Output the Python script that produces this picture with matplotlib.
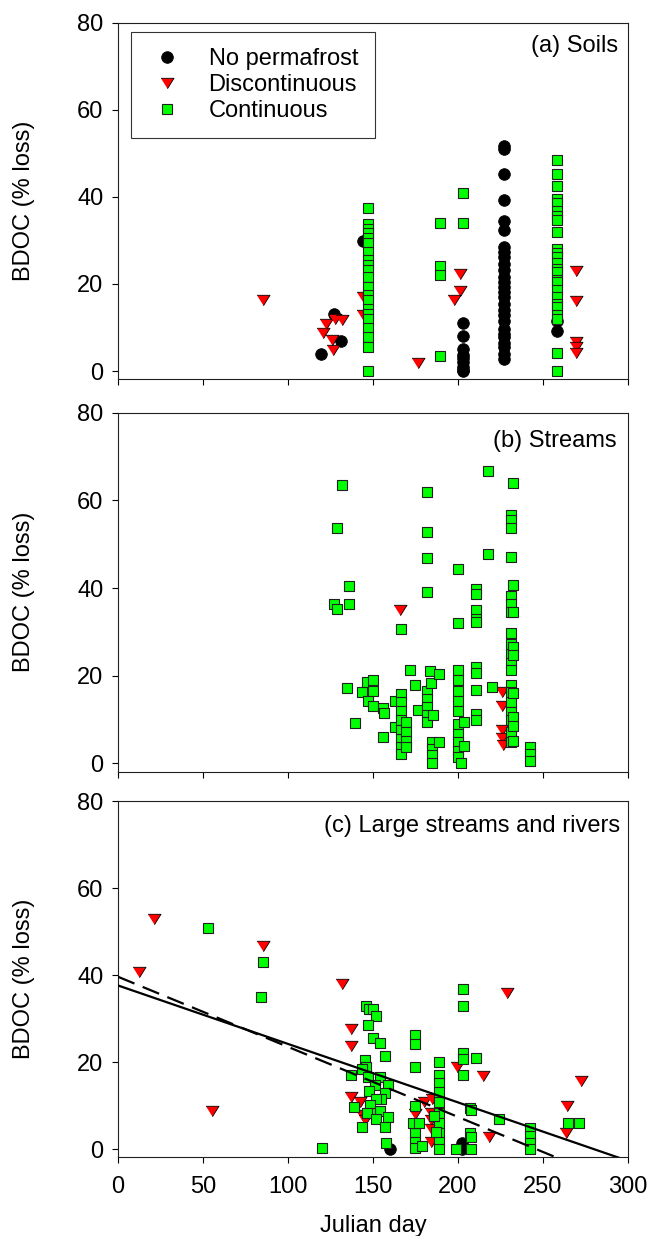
import numpy as np
import matplotlib.pyplot as plt
from matplotlib.lines import Line2D

plt.rcParams['font.family'] = ['Liberation Sans', 'DejaVu Sans']

# (a) soils
soil_none_day = [119.4, 127.3, 131.2, 144.3] + [203.1] * 9 + [227.2] * 27 + [258.0] * 2
soil_none_val = [4.0, 13.0, 6.9, 29.9,
                 11.0, 8.0, 5.1, 3.6, 3.0, 2.1, 1.0, 0.2, 0.0,
                 51.7, 51.0, 45.2, 39.2, 34.5, 32.3, 28.5, 27.4, 26.2, 24.5, 23.3, 21.5, 20.5, 19.2,
                 18.2, 17.0, 15.3, 14.0, 12.8, 11.5, 9.7, 8.5, 7.8, 6.5, 5.5, 4.0, 2.8,
                 11.6, 9.3]
soil_disc_day = [85.1, 120.4, 122.4, 125.7, 126.3, 127.6, 131.6, 144.3, 144.3, 176.3,
                 201.2, 201.2, 197.8, 269.3, 269.3, 269.3, 269.3, 269.3]
soil_disc_val = [16.2, 8.7, 10.7, 7.2, 4.9, 12.0, 11.7, 16.9, 12.8, 1.8,
                 22.2, 18.3, 16.3, 22.9, 16.0, 6.7, 5.5, 4.1]
soil_cont_day = [147.3] * 21 + [189.4] * 4 + [203.1] * 2 + [258.0] * 25
soil_cont_val = [37.5, 33.7, 32.6, 31.6, 30.5, 29.3, 27.4, 25.4, 24.4, 23.3, 21.5, 19.2, 17.5,
                 16.4, 14.3, 13.2, 12.0, 9.9, 7.8, 5.5, 0.0,
                 34.1, 24.1, 22.0, 3.4,
                 40.9, 34.1,
                 48.4, 45.2, 42.5, 39.5, 38.5, 36.8, 35.5, 34.6, 32.0, 28.1, 27.0, 26.2, 24.7,
                 23.5, 22.8, 21.0, 20.5, 18.5, 17.0, 15.5, 14.7, 12.8, 12.0, 4.1, 0.0]

# (b) streams
stream_none_day = []
stream_none_val = []
stream_disc_day = [166.0, 225.7, 225.7, 225.7, 225.7, 226.3]
stream_disc_val = [34.9, 16.2, 13.2, 7.5, 5.9, 4.3]
stream_cont_day = ([131.9, 128.9, 136.0, 126.8, 128.9, 136.0,
                    134.5, 139.4, 143.7, 146.3, 149.8, 149.8, 147.0, 149.8, 155.7, 156.7, 155.7,
                    162.9, 162.9]
                   + [166.3] * 9 + [169.3] * 4
                   + [171.8, 174.7, 176.7]
                   + [181.8] * 9
                   + [183.5, 183.9, 189.0, 185.5]
                   + [184.7] * 4 + [189.0]
                   + [199.8] * 12
                   + [203.7, 203.7, 201.8]
                   + [210.3] * 10
                   + [217.8, 217.8, 219.8]
                   + [231.2] * 19 + [232.5] * 9 + [242.5] * 3)
stream_cont_val = ([63.5, 53.7, 40.5, 36.4, 35.3, 36.4,
                    17.1, 9.1, 16.2, 18.5, 19.1, 16.6, 14.3, 13.2, 12.6, 11.4, 6.1,
                    14.3, 8.2]
                   + [30.6, 15.9, 13.9, 12.0, 9.8, 7.5, 5.6, 3.7, 2.1]
                   + [9.4, 7.1, 5.2, 3.7]
                   + [21.3, 17.8, 12.2]
                   + [61.9, 52.7, 46.9, 39.2, 16.6, 14.7, 12.8, 11.1, 9.4]
                   + [21.0, 18.4, 20.4, 11.1]
                   + [4.8, 3.3, 1.8, 0.0, 4.8]
                   + [44.3, 32.1, 21.3, 19.1, 16.6, 14.3, 12.0, 9.0, 6.7, 4.8, 2.9, 1.4]
                   + [9.4, 4.0, 0.0]
                   + [39.8, 38.7, 34.9, 33.0, 32.2, 21.9, 20.6, 16.8, 11.3, 9.8]
                   + [66.7, 47.8, 17.5]
                   + [56.6, 55.6, 53.7, 47.1, 38.2, 36.3, 34.5, 29.7, 27.3, 25.0, 22.9, 21.2,
                      17.8, 16.2, 13.9, 11.7, 9.8, 7.1, 4.8]
                   + [64.0, 40.8, 34.5, 26.5, 24.8, 16.0, 10.5, 8.6, 5.2]
                   + [3.7, 2.1, 0.6])

# (c) large streams and rivers
river_none_day = [160.0, 202.5, 202.5]
river_none_val = [0.0, 1.3, 0.0]
river_disc_day = [12.2, 21.0, 55.0, 85.0, 132.0, 136.9, 136.9, 136.9, 142.2, 143.5, 145.0,
                  175.0, 180.0, 184.7, 184.3, 184.0, 184.0, 184.0, 199.6, 214.7, 218.0, 229.0,
                  263.4, 264.0, 272.4]
river_disc_val = [40.7, 52.8, 8.7, 46.7, 37.9, 27.7, 23.7, 11.9, 10.7, 7.8, 6.7,
                  8.0, 10.7, 11.6, 6.7, 8.2, 4.5, 1.7, 18.8, 16.8, 2.8, 35.8,
                  3.8, 9.9, 15.7]
river_cont_day = ([53.0, 85.0, 84.3, 120.0,
                   146.1, 147.6, 150.0, 152.0, 147.0, 150.0, 153.9, 156.9, 145.1, 146.0, 136.9,
                   143.7, 147.0, 153.9, 151.0, 158.8, 156.9, 147.6, 154.9, 152.0, 138.8, 148.4,
                   154.0, 148.4, 146.5, 158.8, 152.0, 143.7, 156.9, 157.8]
                  + [175.0] * 7 + [173.5, 177.0, 179.0]
                  + [188.8] * 10 + [186.0, 186.9, 198.6]
                  + [203.0] * 5
                  + [210.8, 207.3, 207.8, 206.9, 207.8, 207.8, 223.9]
                  + [242.2] * 4 + [264.6, 271.4])
river_cont_val = ([50.9, 42.9, 35.0, 0.2,
                   32.9, 32.1, 32.3, 30.6, 28.5, 25.6, 24.3, 21.4, 20.5, 18.9, 17.0,
                   18.3, 16.6, 16.5, 14.7, 14.7, 12.9, 13.4, 11.4, 11.4, 9.6, 10.1,
                   8.7, 8.2, 8.2, 7.3, 6.8, 5.0, 5.0, 1.3]
                  + [26.2, 24.1, 18.9, 10.0, 3.8, 1.7, 0.2, 6.0, 6.0, 0.6]
                  + [20.0, 17.0, 15.1, 13.2, 10.9, 8.2, 6.0, 3.8, 1.7, 0.0, 7.5, 4.0, 0.0]
                  + [36.9, 32.9, 22.0, 20.6, 17.0]
                  + [21.0, 9.4, 8.9, 3.8, 2.8, 0.0, 6.9]
                  + [4.8, 3.0, 1.5, 0.0, 6.0, 6.0])

# regression lines (intercept, slope)
fit_solid = (37.6, -0.1344)
fit_dashed = (39.6, -0.1611)

panel_titles = ['(a) Soils', '(b) Streams', '(c) Large streams and rivers']
series_labels = ['No permafrost', 'Discontinuous', 'Continuous']

tri = [(-1.0, 0.8), (1.0, 0.8), (0.0, -0.8)]
styles = [dict(marker='o', s=70, c='black', edgecolors='black', linewidths=0.6),
          dict(marker=tri, s=88, c='#ff0000', edgecolors='black', linewidths=0.6),
          dict(marker='s', s=54, c='#00ff00', edgecolors='#202020', linewidths=0.8)]

panels = [
    [(soil_none_day, soil_none_val), (soil_disc_day, soil_disc_val), (soil_cont_day, soil_cont_val)],
    [(stream_none_day, stream_none_val), (stream_disc_day, stream_disc_val), (stream_cont_day, stream_cont_val)],
    [(river_none_day, river_none_val), (river_disc_day, river_disc_val), (river_cont_day, river_cont_val)],
]

W, H = 649, 1236
fig = plt.figure(figsize=(W / 100, H / 100), dpi=100)
# top/bottom pixel of each panel
boxes = [(22.7, 379.3), (412.7, 771.7), (801.0, 1157.3)]
title_pos = [(0.980, 0.9655), (0.977, 0.952), (0.985, 0.961)]
fs = 17

axes = []
for i, (top, bot) in enumerate(boxes):
    ax = fig.add_axes([118 / W, 1 - bot / H, 510 / W, (bot - top) / H])
    for (xd, yd), st in zip(panels[i], styles):
        if len(xd):
            ax.scatter(xd, yd, zorder=3, **st)
    ax.set_xlim(0, 300)
    ax.set_ylim(-1.9, 80)
    ax.set_xticks(np.arange(0, 301, 50))
    ax.set_yticks(np.arange(0, 81, 20))
    ax.tick_params(direction='out', length=4.5, width=0.8, labelsize=fs, pad=6,
                   top=False, right=False)
    ax.tick_params(axis='x', pad=9)
    for sp in ax.spines.values():
        sp.set_linewidth(0.8)
        sp.set_color('#202020')
    ax.set_ylabel('BDOC (% loss)', fontsize=fs, va='center', ha='center')
    ax.yaxis.set_label_coords(-0.184, 0.5)
    ax.text(title_pos[i][0], title_pos[i][1], panel_titles[i], transform=ax.transAxes,
            ha='right', va='top', fontsize=fs)
    if i < 2:
        ax.set_xticklabels([])
    axes.append(ax)

ax = axes[2]
xs = np.array([0, 300])
ax.plot(xs, fit_solid[0] + fit_solid[1] * xs, color='black', lw=1.6, zorder=4)
ax.plot(xs, fit_dashed[0] + fit_dashed[1] * xs, color='black', lw=1.6,
        linestyle=(0, (8, 4)), zorder=4)
ax.set_xlabel('Julian day', fontsize=fs, va='top')
ax.xaxis.set_label_coords(0.5, -0.163)

handles = [Line2D([], [], linestyle='none', marker=st['marker'], markersize=np.sqrt(st['s']),
                  markerfacecolor=st['c'], markeredgecolor=st['edgecolors'],
                  markeredgewidth=st['linewidths']) for st in styles]
leg = axes[0].legend(handles, series_labels, loc='upper left', bbox_to_anchor=(0.0249, 0.9748),
                     fontsize=fs, frameon=True, fancybox=False, borderpad=0.7,
                     handlelength=1.7, handletextpad=0.9, labelspacing=0.16,
                     borderaxespad=0)
leg.get_frame().set_edgecolor('black')
leg.get_frame().set_linewidth(0.8)

fig.savefig('out.png', dpi=100)
